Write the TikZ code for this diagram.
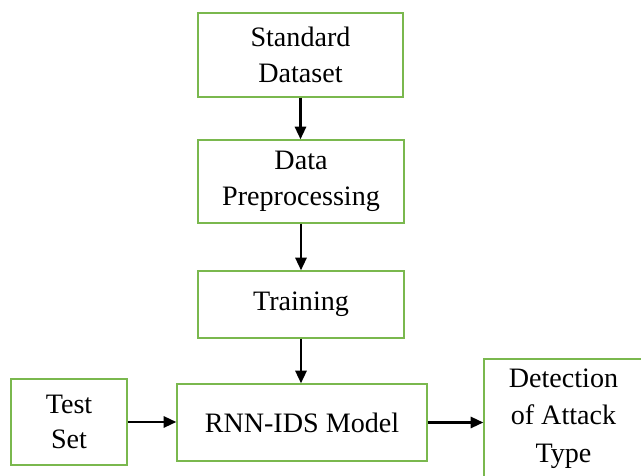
\documentclass[tikz,border=0pt]{standalone}
\usepackage{fontspec}
\setmainfont{Liberation Serif}
\usepackage{tikz}
\usetikzlibrary{arrows.meta}
\definecolor{boxGreen}{HTML}{7AB84E}

\tikzset{
    stage/.style={draw=boxGreen, line width=1pt, fill=white, inner sep=0pt,
        align=center, font=\fontsize{20}{25.5}\selectfont},
    flow/.style={-{Triangle[length=9pt,width=8pt]}, line width=1.6pt, black}
}

\begin{document}
\begin{tikzpicture}
    \useasboundingbox (0,0) rectangle (16.025,11.9);
    \node[stage, minimum width=5.125cm, minimum height=2.1cm] (dataset) at (7.5125,10.525) {Standard\\Dataset};
    \node[stage, minimum width=5.15cm, minimum height=2.075cm] (prep) at (7.525,7.3625) {Data\\Preprocessing};
    \node[stage, minimum width=5.15cm, minimum height=1.675cm] (train) at (7.525,4.2875) {Training};
    \node[stage, minimum width=2.9cm, minimum height=2.15cm] (test) at (1.725,1.35) {Test\\Set};
    \node[stage, minimum width=6.25cm, minimum height=1.925cm] (model) at (7.55,1.3375) {RNN-IDS Model};
    \node[stage, minimum width=3.975cm, minimum height=2.975cm, font=\fontsize{20}{26.5}\selectfont] (detect) at (14.0875,1.4375) {Detection\\of Attack\\Type};
    \draw[flow] (dataset.south) -- (dataset.south |- prep.north);
    \draw[flow] (prep) -- (train);
    \draw[flow] (train.south) -- (train.south |- model.north);
    \draw[flow] (test.east) -- (test.east -| model.west);
    \draw[flow] (model.east) -- (model.east -| detect.west);
\end{tikzpicture}
\end{document}
